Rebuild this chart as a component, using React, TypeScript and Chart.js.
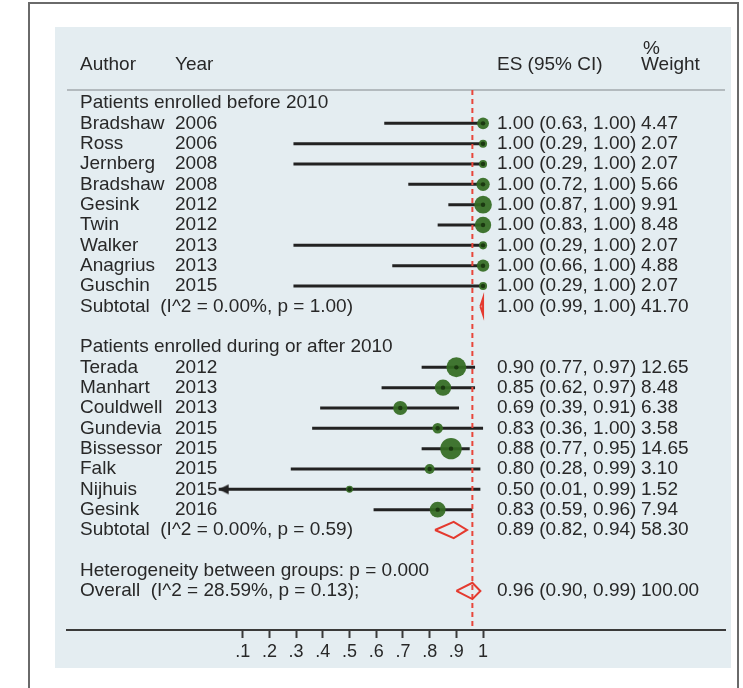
import { useEffect, useRef } from 'react';
import { Chart, registerables } from 'chart.js';

Chart.register(...registerables);

// ---------- data ----------
const GROUP_TITLES = ['Patients enrolled before 2010', 'Patients enrolled during or after 2010'];

const G1_AUTHORS = ['Bradshaw', 'Ross', 'Jernberg', 'Bradshaw', 'Gesink', 'Twin', 'Walker', 'Anagrius', 'Guschin'];
const G1_YEARS = ['2006', '2006', '2008', '2008', '2012', '2012', '2013', '2013', '2015'];
const G1_ES = [1.0, 1.0, 1.0, 1.0, 1.0, 1.0, 1.0, 1.0, 1.0];
const G1_LO = [0.63, 0.29, 0.29, 0.72, 0.87, 0.83, 0.29, 0.66, 0.29];
const G1_HI = [1.0, 1.0, 1.0, 1.0, 1.0, 1.0, 1.0, 1.0, 1.0];
const G1_W = [4.47, 2.07, 2.07, 5.66, 9.91, 8.48, 2.07, 4.88, 2.07];

const G2_AUTHORS = ['Terada', 'Manhart', 'Couldwell', 'Gundevia', 'Bissessor', 'Falk', 'Nijhuis', 'Gesink'];
const G2_YEARS = ['2012', '2013', '2013', '2015', '2015', '2015', '2015', '2016'];
const G2_ES = [0.90, 0.85, 0.69, 0.83, 0.88, 0.80, 0.50, 0.83];
const G2_LO = [0.77, 0.62, 0.39, 0.36, 0.77, 0.28, 0.01, 0.59];
const G2_HI = [0.97, 0.97, 0.91, 1.00, 0.95, 0.99, 0.99, 0.96];
const G2_W = [12.65, 8.48, 6.38, 3.58, 14.65, 3.10, 1.52, 7.94];

const SUB_LABELS = ['Subtotal  (I^2 = 0.00%, p = 1.00)', 'Subtotal  (I^2 = 0.00%, p = 0.59)'];
const SUB_ES = [1.00, 0.89];
const SUB_LO = [0.99, 0.82];
const SUB_HI = [1.00, 0.94];
const SUB_W = [41.70, 58.30];

const HET_LABEL = 'Heterogeneity between groups: p = 0.000';
const OVERALL_LABEL = 'Overall  (I^2 = 28.59%, p = 0.13);';
const OVERALL_ES = 0.96;
const OVERALL_LO = 0.90;
const OVERALL_HI = 0.99;
const OVERALL_W = 100.0;

const TICK_VALUES = [0.1, 0.2, 0.3, 0.4, 0.5, 0.6, 0.7, 0.8, 0.9, 1.0];
const TICK_LABELS = ['.1', '.2', '.3', '.4', '.5', '.6', '.7', '.8', '.9', '1'];

// ---------- row layout (row index on the y scale) ----------
type Row = {
  kind: 'title' | 'study' | 'sub' | 'het' | 'overall';
  row: number;
  label: string;
  year?: string;
  es?: number;
  lo?: number;
  hi?: number;
  w?: number;
};

function buildRows(): Row[] {
  const rows: Row[] = [];
  let r = 0;
  const groups = [
    { a: G1_AUTHORS, y: G1_YEARS, es: G1_ES, lo: G1_LO, hi: G1_HI, w: G1_W },
    { a: G2_AUTHORS, y: G2_YEARS, es: G2_ES, lo: G2_LO, hi: G2_HI, w: G2_W },
  ];
  groups.forEach((g, gi) => {
    rows.push({ kind: 'title', row: r++, label: GROUP_TITLES[gi] });
    g.a.forEach((name, i) => {
      rows.push({ kind: 'study', row: r++, label: name, year: g.y[i], es: g.es[i], lo: g.lo[i], hi: g.hi[i], w: g.w[i] });
    });
    rows.push({ kind: 'sub', row: r++, label: SUB_LABELS[gi], es: SUB_ES[gi], lo: SUB_LO[gi], hi: SUB_HI[gi], w: SUB_W[gi] });
    r++; // blank
  });
  rows.push({ kind: 'het', row: r++, label: HET_LABEL });
  rows.push({ kind: 'overall', row: r++, label: OVERALL_LABEL, es: OVERALL_ES, lo: OVERALL_LO, hi: OVERALL_HI, w: OVERALL_W });
  return rows;
}

const HEADER_ROW = -1.9;
const PCT_ROW = -2.65;
const SEP_ROW = -0.64;
const Y_MIN = -3.74;
const Y_MAX = 25.92;

const FONT = '19px "Liberation Sans", Arial, sans-serif';
const TEXT_COLOR = '#282828';

function fmt(v: number) {
  return v.toFixed(2);
}

function makeArrow(): HTMLCanvasElement {
  // left-pointing arrow head whose tip sits at the image centre
  const c = document.createElement('canvas');
  c.width = 26;
  c.height = 12;
  const g = c.getContext('2d') as CanvasRenderingContext2D;
  g.fillStyle = '#222';
  g.beginPath();
  g.moveTo(13, 6);
  g.lineTo(23, 1);
  g.lineTo(23, 11);
  g.closePath();
  g.fill();
  return c;
}

export default function App() {
  const ref = useRef<HTMLCanvasElement | null>(null);

  useEffect(() => {
    if (!ref.current) return;
    const rows = buildRows();
    const studies = rows.filter((r) => r.kind === 'study');
    const diamonds = rows.filter((r) => r.kind === 'sub' || r.kind === 'overall');

    const datasets: any[] = [];

    // markers (weighted circles)
    datasets.push({
      type: 'scatter',
      data: studies.map((s) => ({ x: s.es, y: s.row })),
      pointRadius: studies.map((s) => 2.8 * Math.sqrt(s.w as number)),
      backgroundColor: 'rgba(52,108,34,0.93)',
      borderWidth: 0,
      order: 1,
    });
    // centre points
    datasets.push({
      type: 'scatter',
      data: studies.map((s) => ({ x: s.es, y: s.row })),
      pointRadius: 2.2,
      backgroundColor: '#1b3811',
      borderWidth: 0,
      order: 0,
    });
    // arrows for CIs beyond the first tick
    const arrows = studies.filter((s) => (s.lo as number) < TICK_VALUES[0]);
    datasets.push({
      type: 'scatter',
      data: arrows.map((s) => ({ x: s.lo, y: s.row })),
      pointStyle: makeArrow(),
      pointRadius: 6,
      order: 1,
    });
    // diamonds
    diamonds.forEach((d) => {
      datasets.push({
        type: 'scatter',
        showLine: true,
        data: [
          { x: d.lo, y: d.row },
          { x: d.es, y: d.row - 0.4 },
          { x: d.hi, y: d.row },
          { x: d.es, y: d.row + 0.4 },
          { x: d.lo, y: d.row },
        ],
        borderColor: '#e43a2f',
        borderWidth: 2,
        pointRadius: 0,
        tension: 0,
        fill: false,
        order: 2,
      });
    });
    // overall reference dashed line
    datasets.push({
      type: 'scatter',
      showLine: true,
      data: [
        { x: OVERALL_ES, y: SEP_ROW },
        { x: OVERALL_ES, y: Y_MAX },
      ],
      borderColor: '#e8463b',
      borderWidth: 2,
      borderDash: [5, 4],
      pointRadius: 0,
      order: 3,
    });
    // confidence intervals
    studies.forEach((s) => {
      datasets.push({
        type: 'scatter',
        showLine: true,
        data: [
          { x: s.lo, y: s.row },
          { x: s.hi, y: s.row },
        ],
        borderColor: '#222',
        borderWidth: 3,
        pointRadius: 0,
        order: 4,
      });
    });

    const backgroundPlugin = {
      id: 'bg',
      beforeDraw(chart: any) {
        const ctx = chart.ctx;
        const { chartArea } = chart;
        ctx.save();
        ctx.fillStyle = '#ffffff';
        ctx.fillRect(0, 0, chart.width, chart.height);
        // outer frame
        ctx.strokeStyle = '#6a6a6a';
        ctx.lineWidth = 2;
        ctx.strokeRect(29, 3, 709, 720);
        // panel
        ctx.fillStyle = '#e4edf1';
        ctx.fillRect(chartArea.left - 12, chartArea.top, chartArea.right - chartArea.left + 18, chartArea.bottom - chartArea.top + 38);
        // header separator
        const ys = chart.scales.y;
        const sy = ys.getPixelForValue(SEP_ROW);
        ctx.strokeStyle = '#a3a9ad';
        ctx.lineWidth = 1.5;
        ctx.beginPath();
        ctx.moveTo(chartArea.left, sy);
        ctx.lineTo(chartArea.right, sy);
        ctx.stroke();
        ctx.restore();
      },
    };

    const AUTHOR_X = 80;
    const YEAR_X = 175;
    const ES_X = 497;
    const W_X = 641;

    const textPlugin = {
      id: 'texts',
      afterDatasetsDraw(chart: any) {
        const ctx = chart.ctx;
        const ys = chart.scales.y;
        ctx.save();
        ctx.font = FONT;
        ctx.fillStyle = TEXT_COLOR;
        ctx.textBaseline = 'middle';
        ctx.textAlign = 'left';
        const hy = ys.getPixelForValue(HEADER_ROW);
        ctx.fillText('Author', AUTHOR_X, hy);
        ctx.fillText('Year', YEAR_X, hy);
        ctx.fillText('ES (95% CI)', ES_X, hy);
        ctx.fillText('Weight', W_X, hy);
        ctx.fillText('%', W_X + 2, ys.getPixelForValue(PCT_ROW));
        rows.forEach((r) => {
          const y = ys.getPixelForValue(r.row);
          ctx.fillText(r.label, AUTHOR_X, y);
          if (r.year) ctx.fillText(r.year, YEAR_X, y);
          if (r.es !== undefined) {
            ctx.fillText(`${fmt(r.es)} (${fmt(r.lo as number)}, ${fmt(r.hi as number)})`, ES_X, y);
            ctx.fillText(fmt(r.w as number), W_X, y);
          }
        });
        ctx.restore();
      },
    };

    const chart = new Chart(ref.current, {
      type: 'scatter',
      data: { datasets },
      options: {
        animation: false,
        responsive: false,
        events: [],
        layout: { padding: { left: 67, right: 18, top: 27, bottom: 0 } },
        plugins: { legend: { display: false }, tooltip: { enabled: false } },
        scales: {
          x: {
            type: 'linear',
            min: -0.558,
            max: 1.906,
            afterBuildTicks: (s: any) => {
              s.ticks = TICK_VALUES.map((v) => ({ value: v }));
            },
            afterFit: (s: any) => {
              s.height = 58;
            },
            ticks: {
              autoSkip: false,
              maxRotation: 0,
              padding: 3,
              color: TEXT_COLOR,
              font: { family: '"Liberation Sans", Arial, sans-serif', size: 18 },
              callback: (_v: any, i: number) => TICK_LABELS[i],
            },
            grid: {
              display: true,
              drawOnChartArea: false,
              drawTicks: true,
              tickLength: 8,
              tickWidth: 2,
              tickColor: '#3a3a3a',
            },
            border: { display: true, color: '#3a3a3a', width: 2 },
          },
          y: {
            type: 'linear',
            display: false,
            reverse: true,
            min: Y_MIN,
            max: Y_MAX,
          },
        },
      },
      plugins: [backgroundPlugin, textPlugin],
    } as any);

    return () => chart.destroy();
  }, []);

  return (
    <div style={{ position: 'fixed', left: 0, top: 0, width: 743, height: 688 }}>
      <canvas ref={ref} width={743} height={688} />
    </div>
  );
}
